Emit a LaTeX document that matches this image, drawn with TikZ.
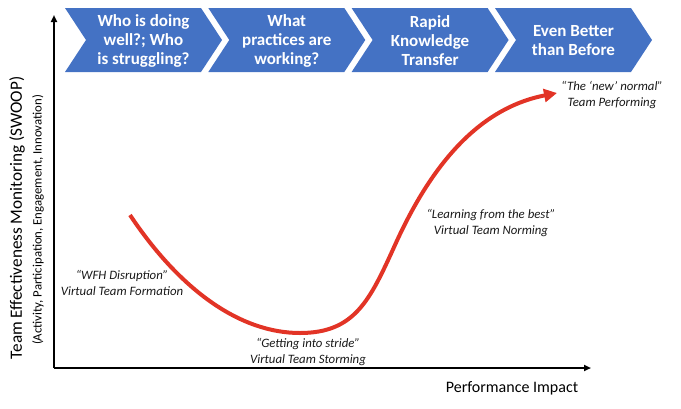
\documentclass[tikz,border=0pt]{standalone}
\usepackage{fontspec}
\setmainfont{Carlito}
\usetikzlibrary{arrows.meta}
\definecolor{chevblue}{RGB}{68,114,196}
\definecolor{curvered}{RGB}{226,52,38}
\tikzset{
  chevtext/.style={text=white,font=\bfseries\fontsize{17}{19}\selectfont,align=center},
  stagelabel/.style={font=\itshape\fontsize{12.8}{16.5}\selectfont,align=center,text=black!90},
  axisline/.style={line width=1.8pt,-{Triangle[length=7pt,width=6pt]}},
}
\begin{document}
\begin{tikzpicture}[x=1pt,y=-1pt]
\useasboundingbox (0,0) rectangle (681,408);
% chevrons
\foreach \L/\txt [count=\i] in {65/{Who is doing\\well?; Who\\is struggling?},208.3/{What\\practices are\\working?},351.6/{Rapid\\Knowledge\\Transfer},495/{Even Better\\than Before}}{
  \fill[chevblue] (\L,8) -- (\L+136,8) -- (\L+157,40) -- (\L+136,72) -- (\L,72) -- (\L+21,40) -- cycle;
  \node[chevtext] (chev\i) at (\L+78.5,41) {\txt};
}
% axes
\coordinate (O) at (54,368);
\coordinate (ytop) at (54,15);
\coordinate (xend) at (591,368);
\draw[axisline] (O) -- (ytop);
\draw[axisline] (O) -- (xend);
\node[font=\fontsize{16}{19}\selectfont] (xlab) at (512,388) {Performance Impact};
\node[rotate=90,font=\fontsize{17.2}{19}\selectfont] (ylab) at (17,218) {Team Effectiveness Monitoring (SWOOP)};
\node[rotate=90,font=\fontsize{12.8}{14}\selectfont] (ylab2) at (38,220) {(Activity, Participation, Engagement, Innovation)};
% curve
\coordinate (cstart) at (130,215);
\coordinate (cmin) at (300,333);
\coordinate (cmid) at (395,245);
\coordinate (cend) at (557,93);
\draw[curvered,line width=4pt,-{Triangle[length=13pt,width=13pt]}]
  (cstart) .. controls (180,290) and (240,333) .. (cmin)
  .. controls (355,333) and (370,300) .. (cmid)
  .. controls (432,163) and (480,108) .. (cend);
% labels
\node[stagelabel] (l1) at (122,283) {“WFH Disruption”\\Virtual Team Formation};
\node[stagelabel] (l2) at (308,352) {“Getting into stride”\\Virtual Team Storming};
\node[stagelabel] (l3) at (491,223) {“Learning from the best”\\Virtual Team Norming};
\node[stagelabel] (l4) at (612,95) {“The ‘new’ normal”\\Team Performing};
\end{tikzpicture}
\end{document}
